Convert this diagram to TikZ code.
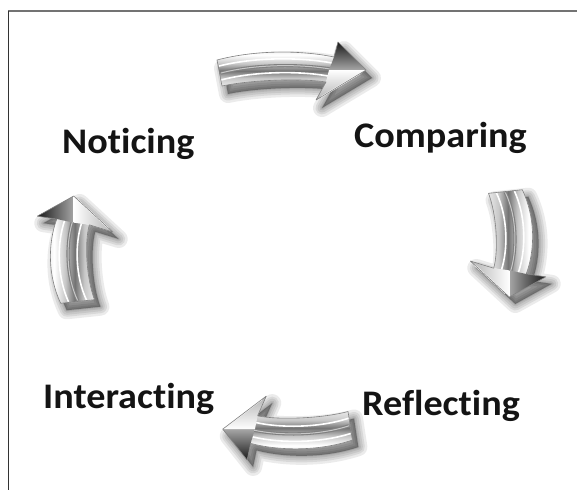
\documentclass[tikz,border=0pt]{standalone}
\usepackage{fontspec}
\setmainfont{Carlito}[Ligatures=NoCommon, FakeStretch=1.06]
\pgfdeclareverticalshading{tube}{100bp}{%
  color(0bp)=(black!55); color(18bp)=(white); color(36bp)=(black!22);
  color(46bp)=(black!55); color(56bp)=(black!22); color(68bp)=(white);
  color(84bp)=(black!15); color(94bp)=(white); color(100bp)=(black!40)}
% outline of one bevelled arrow, pointing along +x, centred on the origin
\def\arrowoutline{(-74,-11) .. controls (-36,-21) and (9,-21) .. (43,-14)
  -- (47,-29) -- (75,-1) -- (25,29) -- (35,11)
  .. controls (9,7) and (-41,9) .. (-69,15) -- cycle}
\def\arrowbody{(-74,-11) .. controls (-36,-21) and (9,-21) .. (43,-14)
  -- (35,11) .. controls (9,7) and (-41,9) .. (-69,15) -- cycle}
\tikzset{
  lbl/.style={font=\bfseries\fontsize{36}{38}\selectfont, anchor=base west,
    inner sep=0pt, text=black!92},
  frame/.style={line width=#1},
}
% shadow, then the shaded arrow itself: #1 centre, #2 angle, #3 xscale, #4 yscale, #5 shadow centre
\newcommand\bevelarrow[5]{%
  \begin{scope}[shift={#5}, rotate=#2, xscale=#3, yscale=#4]
    \foreach \w in {18,13,9,5,2}
      \filldraw[black, opacity=0.08, line width=\w pt, line join=round] \arrowoutline;
  \end{scope}
  \begin{scope}[shift={#1}, rotate=#2, xscale=#3, yscale=#4]
    \fill[white] \arrowoutline;
    \shade[shading=tube, shading angle=#2] \arrowbody;
    \draw[black!50, line width=3.2] (-70,2) .. controls (-36,-7) and (9,-7) .. (39,-2);
    \draw[black!22, line width=1] (-70,2) .. controls (-36,-7) and (9,-7) .. (39,-2);
    \draw[white, line width=1.6] (-72,-5) .. controls (-36,-14) and (9,-14) .. (41,-8);
    \draw[white, line width=1.6] (-70,9) .. controls (-36,0) and (9,0) .. (37,5);
    \shade[top color=black!90, bottom color=black!35, shading angle=#2]
      (43,-14) -- (47,-29) -- (75,-1) -- (38,-1) -- cycle;
    \shade[top color=white, bottom color=black!30, shading angle=#2]
      (38,-1) -- (75,-1) -- (25,29) -- (35,11) -- cycle;
    \draw[white, line width=1.4] (70,2) -- (30,26);
    \draw[black!50, line width=0.6, line join=round] \arrowoutline;
  \end{scope}}
\begin{document}
\begin{tikzpicture}[x=1pt, y=-1pt]
  \useasboundingbox (0,0) rectangle (577,490);
  \fill[white] (0,0) rectangle (577,490);
  % frame lines
  \draw[black!55, frame=1.6] (8,11) -- (577,11);
  \draw[black!80, frame=0.8] (8,11) -- (8,490);
  % the four arrows of the cycle
  \bevelarrow{(291,71)}{0}{1}{1}{(297,79)}
  \bevelarrow{(508,243)}{-90}{0.72}{1.3}{(514,250)}
  \bevelarrow{(288,428)}{180}{0.87}{1.1}{(294,435)}
  \bevelarrow{(75,250)}{90}{0.72}{1.3}{(81,257)}
  % stage labels
  \node[lbl] (noticing) at (62,153) {Noticing};
  \node[lbl] (comparing) at (354,147) {Comparing};
  \node[lbl] (reflecting) at (362,415) {Reflecting};
  \node[lbl] (interacting) at (43,408) {Interacting};
\end{tikzpicture}
\end{document}
